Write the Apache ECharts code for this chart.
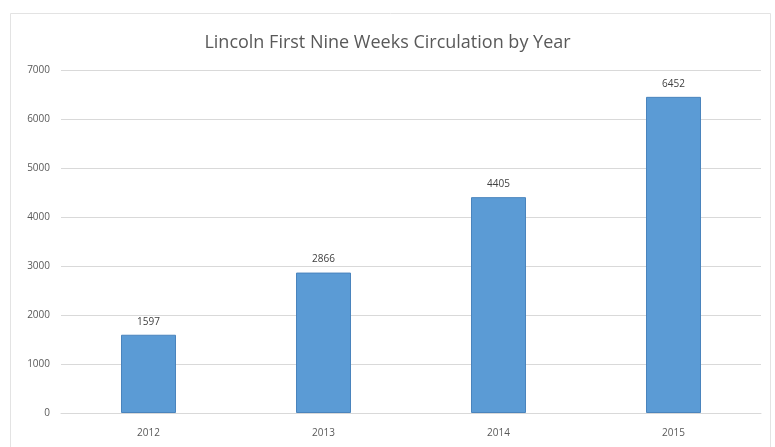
<!DOCTYPE html>
<html>
<head>
<meta charset="utf-8">
<script src="https://cdn.jsdelivr.net/npm/echarts@6/dist/echarts.min.js"></script>
<style>
  html, body { margin: 0; padding: 0; background: #fff; }
  #chart { width: 775px; height: 447px; }
</style>
</head>
<body>
<div id="chart"></div>
<script>
// Circulation during the first nine weeks of each school year
const years = ['2012', '2013', '2014', '2015'];
const circulation = [1597, 2866, 4405, 6452];
const yTicks = [0, 1000, 2000, 3000, 4000, 5000, 6000, 7000];

const chart = echarts.init(document.getElementById('chart'));
chart.setOption({
  backgroundColor: '#ffffff',
  animation: false,
  title: {
    text: 'Lincoln First Nine Weeks Circulation by Year',
    left: 'center',
    top: 29,
    textStyle: {
      fontFamily: 'Open Sans',
      fontWeight: 'normal',
      fontSize: 18,
      color: '#595959'
    }
  },
  graphic: [{
    type: 'rect',
    shape: { x: 10.5, y: 13.5, width: 760, height: 440 },
    style: { fill: 'none', stroke: '#e3e3e3', lineWidth: 1 },
    silent: true
  }],
  grid: { left: 61, right: 14, top: 70, bottom: 34, containLabel: false },
  xAxis: {
    type: 'category',
    data: years,
    axisLine: { lineStyle: { color: '#d9d9d9' } },
    axisTick: { show: false },
    axisLabel: { color: '#595959', fontSize: 10, fontFamily: 'Open Sans', margin: 15 }
  },
  yAxis: {
    type: 'value',
    min: yTicks[0],
    max: yTicks[yTicks.length - 1],
    interval: 1000,
    axisLine: { show: false },
    axisTick: { show: false },
    splitLine: { lineStyle: { color: '#d9d9d9' } },
    axisLabel: {
      color: '#595959',
      fontSize: 10,
      fontFamily: 'Open Sans',
      margin: 11,
      formatter: (v) => String(v)
    }
  },
  series: [{
    type: 'bar',
    data: circulation,
    barWidth: 55,
    itemStyle: { color: '#5b9bd5', borderColor: '#4a84bd', borderWidth: 1 },
    label: {
      show: true,
      position: 'top',
      distance: 8,
      color: '#404040',
      fontSize: 10,
      fontFamily: 'Open Sans'
    }
  }]
});
</script>
</body>
</html>
